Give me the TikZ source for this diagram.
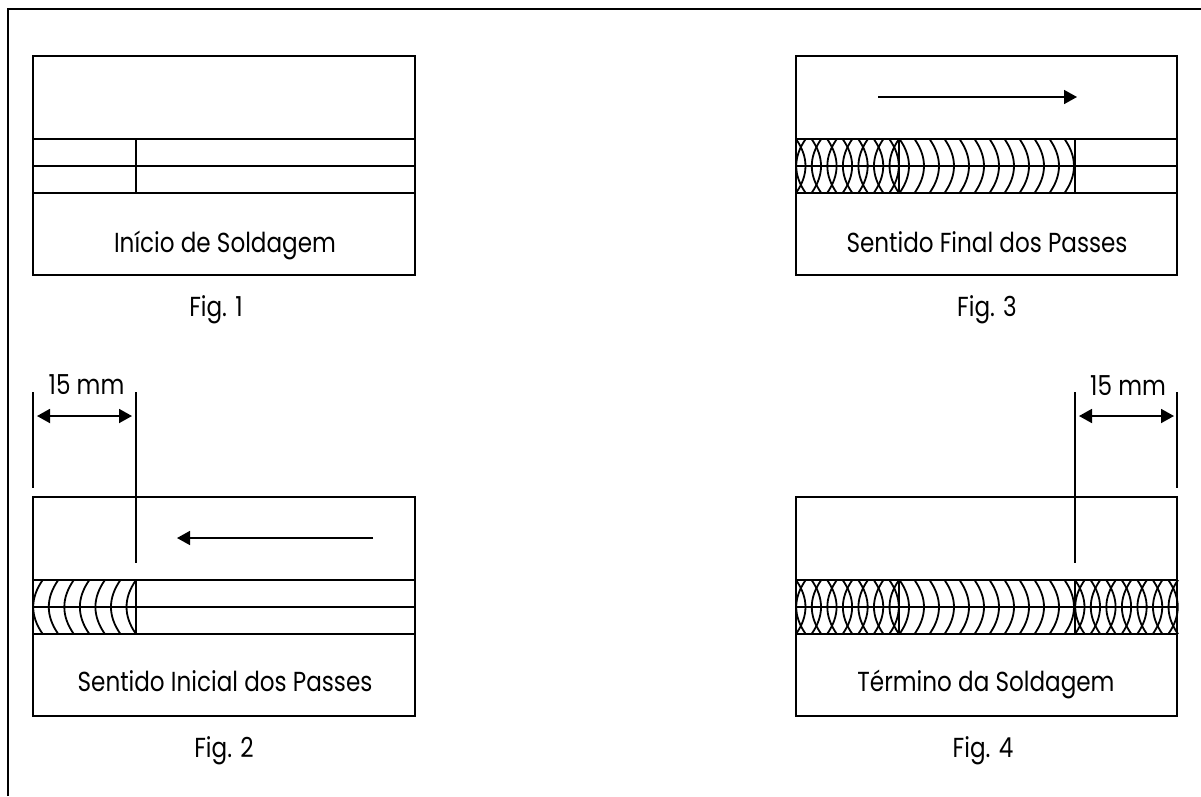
\documentclass[tikz,border=0pt]{standalone}
\usepackage{fontspec}
\setmainfont{Poppins}[FakeStretch=0.84]
\usetikzlibrary{arrows.meta, calc}

\tikzset{
  plate/.style={line width=2pt},
  seam/.style={line width=1.8pt},
  welded/.style={line width=2.8pt},
  dimline/.style={line width=2pt},
  flow/.style={line width=1.6pt, -{Triangle[length=13pt, width=14pt]}},
  span/.style={line width=1.8pt, {Triangle[length=13pt, width=14pt]}-{Triangle[length=13pt, width=14pt]}},
  caption/.style={inner sep=0pt, anchor=base, font=\fontsize{27.5}{32}\selectfont}
}

% one arc of the weld: top end, bulge, top of the strip
\newcommand{\weldarc}[3]{\draw[seam] (#1, #3) .. controls ({#1+#2*1.33}, {#3+18}) and ({#1+#2*1.33}, {#3+36}) .. (#1, #3+54);}

\begin{document}
\begin{tikzpicture}[x=1pt, y=-1pt]
      \useasboundingbox (0, 0) rectangle (1201, 796);

      % Frame
      \coordinate (FrameA) at (8, 796);
      \coordinate (FrameB) at (8, 9);
      \coordinate (FrameC) at (1201, 9);
      \draw[line width=2pt] (FrameA) -- (FrameB) -- (FrameC);

      % Plates
      \draw[plate] (33, 56) rectangle (415, 275);
      \draw[plate] (796, 56) rectangle (1177, 275);
      \draw[plate] (33, 497) rectangle (415, 716);
      \draw[plate] (796, 497) rectangle (1177, 716);
      \foreach \x/\xx in {33/415, 796/1177}
        \foreach \y in {139, 166, 193, 580, 607, 634}
          \draw[seam] (\x, \y) -- (\xx, \y);

      % Cuts
      \draw[plate] (136, 139) -- (136, 193);
      \draw[plate] (899, 139) -- (899, 193);
      \draw[plate] (1075, 139) -- (1075, 193);
      \draw[plate] (899, 580) -- (899, 634);
      \draw[plate] (1075, 580) -- (1075, 634);

      % Weld
      \foreach \i in {0,...,6}
        \weldarc{42.7+15.55*\i}{-9.5}{580};
      \foreach \y in {139, 580} {
        \foreach \i in {0,...,6} {
          \weldarc{805.7+15.55*\i}{-9.5}{\y}
          \weldarc{796+15.55*\i}{9.5}{\y}
        }
        \foreach \i in {0,...,11}
          \weldarc{899.5+15*\i}{9.5}{\y};
      }
      \foreach \i in {0,...,6} {
        \weldarc{1084.7+15.55*\i}{-9.5}{580}
        \weldarc{1075+15.55*\i}{9.5}{580}
      }
      \draw[welded] (33, 580) rectangle (136, 634);
      \draw[welded] (796, 139) rectangle (899, 193);
      \draw[welded] (796, 580) rectangle (899, 634);
      \draw[welded] (1075, 580) rectangle (1177, 634);

      % Flow arrows
      \coordinate (StartC) at (878, 97);
      \coordinate (EndC) at (1077, 97);
      \coordinate (StartB) at (373, 538);
      \coordinate (EndB) at (177, 538);
      \draw[flow] (StartC) -- (EndC);
      \draw[flow] (StartB) -- (EndB);

      % Dimension lines
      \coordinate (TickA) at (33, 392);
      \coordinate (TickB) at (136, 392);
      \coordinate (TickC) at (1075, 392);
      \coordinate (TickD) at (1177, 392);
      \coordinate (FootA) at (33, 488);
      \coordinate (FootB) at (136, 563);
      \coordinate (FootC) at (1075, 563);
      \coordinate (FootD) at (1177, 488);
      \draw[dimline] (TickA) -- (FootA);
      \draw[dimline] (TickB) -- (FootB);
      \draw[dimline] (TickC) -- (FootC);
      \draw[dimline] (TickD) -- (FootD);
      \coordinate (SpanA) at (37, 416);
      \coordinate (SpanB) at (132, 416);
      \coordinate (SpanC) at (1079, 416);
      \coordinate (SpanD) at (1174, 416);
      \draw[span] (SpanA) -- (SpanB);
      \draw[span] (SpanC) -- (SpanD);

      % Labels
      \node[caption] (DimL) at (86.5, 394) {15 mm};
      \node[caption] (DimR) at (1128, 395) {15 mm};
      \node[caption] (TextA) at (225, 252) {Início de Soldagem};
      \node[caption] (TextC) at (987, 252) {Sentido Final dos Passes};
      \node[caption] (TextB) at (225, 691) {Sentido Inicial dos Passes};
      \node[caption] (TextD) at (986, 691) {Término da Soldagem};
      \node[caption] (FigA) at (216, 316) {Fig. 1};
      \node[caption] (FigC) at (987, 316) {Fig. 3};
      \node[caption] (FigB) at (224, 757) {Fig. 2};
      \node[caption] (FigD) at (983, 757) {Fig. 4};
    \end{tikzpicture}
\end{document}
